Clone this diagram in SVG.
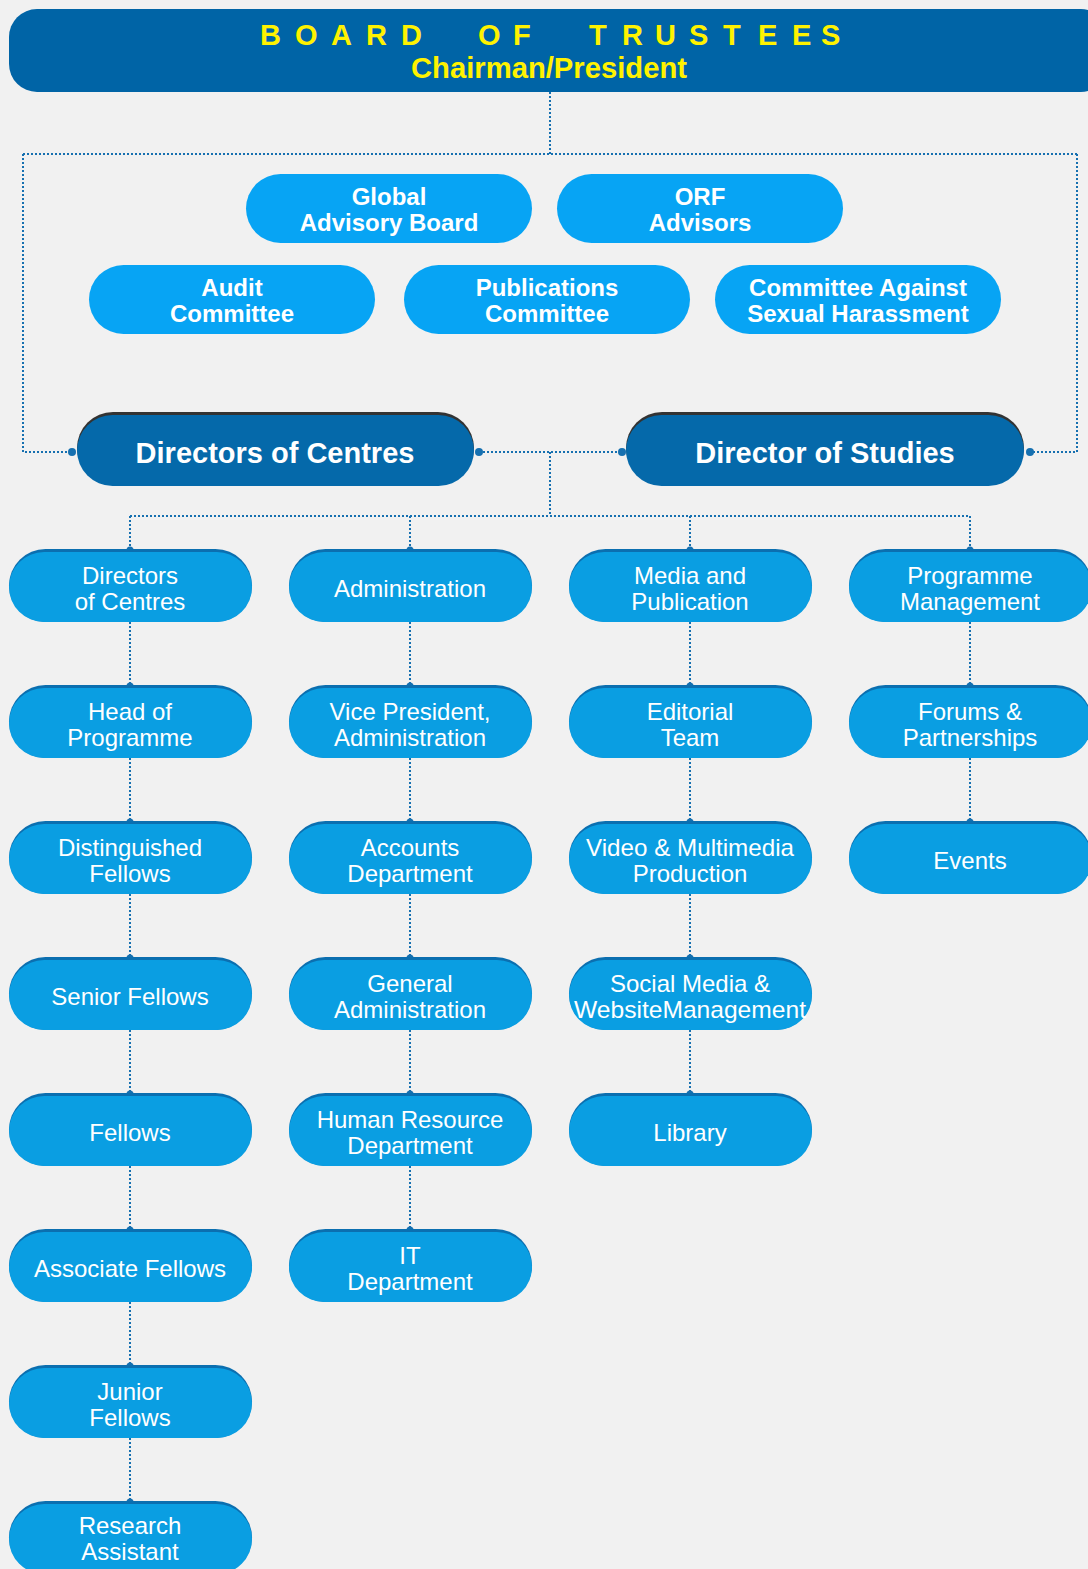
<svg xmlns="http://www.w3.org/2000/svg" width="1088" height="1569" viewBox="0 0 1088 1569">
<defs>
<style>
.bg{fill:#f1f1f1}
.con{fill:none;stroke:#1670b0;stroke-width:2;stroke-dasharray:2 2}
.dot{fill:#1670b0}
.adv{fill:#07a4f4}
.advt{font-family:"Liberation Sans",Arial,sans-serif;font-weight:bold;font-size:24px;fill:#fff;text-anchor:middle}
.dirS{fill:#333}
.dir{fill:#0569aa}
.dirt{font-family:"Liberation Sans",Arial,sans-serif;font-weight:bold;font-size:29px;fill:#fff;text-anchor:middle}
.bxS{fill:#0b6fb0}
.bx{fill:#0a9ee2}
.bxt{font-family:"Liberation Sans",Arial,sans-serif;font-size:24px;fill:#fff;text-anchor:middle}
.top{fill:#0064a6}
.yt{font-family:"Liberation Sans",Arial,sans-serif;font-weight:bold;fill:#fff200}
</style>
</defs>
<rect class="bg" x="0" y="0" width="1088" height="1569"/>

<g id="connectors">
<path class="con" d="M550 92 V154 M23 154 H1077 M23 154 V452 H72 M1077 154 V452 H1030"/>
<path class="con" d="M479 452 H622 M550 452 V516 M130 516 H970 M130 516 V549 M410 516 V549 M690 516 V549 M970 516 V549"/>
<path class="con" d="M130 622 V685 M130 758 V821 M130 894 V957 M130 1030 V1093 M130 1166 V1229 M130 1302 V1365 M130 1438 V1501"/>
<path class="con" d="M410 622 V685 M410 758 V821 M410 894 V957 M410 1030 V1093 M410 1166 V1229"/>
<path class="con" d="M690 622 V685 M690 758 V821 M690 894 V957 M690 1030 V1093"/>
<path class="con" d="M970 622 V685 M970 758 V821"/>
<g class="dot">
<circle cx="72" cy="452" r="4"/><circle cx="1030" cy="452" r="4"/><circle cx="479" cy="452" r="4"/><circle cx="622" cy="452" r="4"/>
<circle cx="130" cy="550" r="3.5"/><circle cx="410" cy="550" r="3.5"/><circle cx="690" cy="550" r="3.5"/><circle cx="970" cy="550" r="3.5"/>
<circle cx="130" cy="686" r="3.5"/><circle cx="130" cy="822" r="3.5"/><circle cx="130" cy="958" r="3.5"/><circle cx="130" cy="1094" r="3.5"/><circle cx="130" cy="1230" r="3.5"/><circle cx="130" cy="1366" r="3.5"/><circle cx="130" cy="1502" r="3.5"/>
<circle cx="410" cy="686" r="3.5"/><circle cx="410" cy="822" r="3.5"/><circle cx="410" cy="958" r="3.5"/><circle cx="410" cy="1094" r="3.5"/><circle cx="410" cy="1230" r="3.5"/>
<circle cx="690" cy="686" r="3.5"/><circle cx="690" cy="822" r="3.5"/><circle cx="690" cy="958" r="3.5"/><circle cx="690" cy="1094" r="3.5"/>
<circle cx="970" cy="686" r="3.5"/><circle cx="970" cy="822" r="3.5"/>
</g>
</g>

<g id="board">
<rect class="top" x="9" y="9" width="1100" height="83" rx="28"/>
<text class="yt" font-size="29" x="260 295 331 366 401 478 513 589 622 655 689 723 758 792 821" y="45">BOARDOFTRUSTEES</text>
<text class="yt" font-size="29" x="411" y="78" textLength="276" lengthAdjust="spacingAndGlyphs">Chairman/President</text>
</g>

<g id="global-advisory-board"><rect class="adv" x="246" y="174" width="286" height="69" rx="34.5"/><text class="advt" x="389" y="205">Global</text><text class="advt" x="389" y="231">Advisory Board</text></g>
<g id="orf-advisors"><rect class="adv" x="557" y="174" width="286" height="69" rx="34.5"/><text class="advt" x="700" y="205">ORF</text><text class="advt" x="700" y="231">Advisors</text></g>
<g id="audit-committee"><rect class="adv" x="89" y="265" width="286" height="69" rx="34.5"/><text class="advt" x="232" y="296">Audit</text><text class="advt" x="232" y="322">Committee</text></g>
<g id="publications-committee"><rect class="adv" x="404" y="265" width="286" height="69" rx="34.5"/><text class="advt" x="547" y="296">Publications</text><text class="advt" x="547" y="322">Committee</text></g>
<g id="committee-against-sexual-harassment"><rect class="adv" x="715" y="265" width="286" height="69" rx="34.5"/><text class="advt" x="858" y="296">Committee Against</text><text class="advt" x="858" y="322">Sexual Harassment</text></g>

<g id="directors-of-centres-head"><rect class="dirS" x="77" y="412" width="397" height="72" rx="36"/><rect class="dir" x="77" y="415" width="397" height="71" rx="35.5"/><text class="dirt" x="275" y="463">Directors of Centres</text></g>
<g id="director-of-studies"><rect class="dirS" x="626" y="412" width="398" height="72" rx="36"/><rect class="dir" x="626" y="415" width="398" height="71" rx="35.5"/><text class="dirt" x="825" y="463">Director of Studies</text></g>

<!-- Column 1 -->
<g id="c1-directors-of-centres"><rect class="bxS" x="9" y="549" width="243" height="73" rx="36.5"/><rect class="bx" x="9" y="552" width="243" height="70" rx="35"/><text class="bxt" x="130" y="584">Directors</text><text class="bxt" x="130" y="610">of Centres</text></g>
<g id="c1-head-of-programme"><rect class="bxS" x="9" y="685" width="243" height="73" rx="36.5"/><rect class="bx" x="9" y="688" width="243" height="70" rx="35"/><text class="bxt" x="130" y="720">Head of</text><text class="bxt" x="130" y="746">Programme</text></g>
<g id="c1-distinguished-fellows"><rect class="bxS" x="9" y="821" width="243" height="73" rx="36.5"/><rect class="bx" x="9" y="824" width="243" height="70" rx="35"/><text class="bxt" x="130" y="856">Distinguished</text><text class="bxt" x="130" y="882">Fellows</text></g>
<g id="c1-senior-fellows"><rect class="bxS" x="9" y="957" width="243" height="73" rx="36.5"/><rect class="bx" x="9" y="960" width="243" height="70" rx="35"/><text class="bxt" x="130" y="1005">Senior Fellows</text></g>
<g id="c1-fellows"><rect class="bxS" x="9" y="1093" width="243" height="73" rx="36.5"/><rect class="bx" x="9" y="1096" width="243" height="70" rx="35"/><text class="bxt" x="130" y="1141">Fellows</text></g>
<g id="c1-associate-fellows"><rect class="bxS" x="9" y="1229" width="243" height="73" rx="36.5"/><rect class="bx" x="9" y="1232" width="243" height="70" rx="35"/><text class="bxt" x="130" y="1277">Associate Fellows</text></g>
<g id="c1-junior-fellows"><rect class="bxS" x="9" y="1365" width="243" height="73" rx="36.5"/><rect class="bx" x="9" y="1368" width="243" height="70" rx="35"/><text class="bxt" x="130" y="1400">Junior</text><text class="bxt" x="130" y="1426">Fellows</text></g>
<g id="c1-research-assistant"><rect class="bxS" x="9" y="1501" width="243" height="73" rx="36.5"/><rect class="bx" x="9" y="1504" width="243" height="70" rx="35"/><text class="bxt" x="130" y="1534">Research</text><text class="bxt" x="130" y="1560">Assistant</text></g>

<!-- Column 2 -->
<g id="c2-administration"><rect class="bxS" x="289" y="549" width="243" height="73" rx="36.5"/><rect class="bx" x="289" y="552" width="243" height="70" rx="35"/><text class="bxt" x="410" y="597">Administration</text></g>
<g id="c2-vice-president"><rect class="bxS" x="289" y="685" width="243" height="73" rx="36.5"/><rect class="bx" x="289" y="688" width="243" height="70" rx="35"/><text class="bxt" x="410" y="720">Vice President,</text><text class="bxt" x="410" y="746">Administration</text></g>
<g id="c2-accounts"><rect class="bxS" x="289" y="821" width="243" height="73" rx="36.5"/><rect class="bx" x="289" y="824" width="243" height="70" rx="35"/><text class="bxt" x="410" y="856">Accounts</text><text class="bxt" x="410" y="882">Department</text></g>
<g id="c2-general-administration"><rect class="bxS" x="289" y="957" width="243" height="73" rx="36.5"/><rect class="bx" x="289" y="960" width="243" height="70" rx="35"/><text class="bxt" x="410" y="992">General</text><text class="bxt" x="410" y="1018">Administration</text></g>
<g id="c2-human-resource"><rect class="bxS" x="289" y="1093" width="243" height="73" rx="36.5"/><rect class="bx" x="289" y="1096" width="243" height="70" rx="35"/><text class="bxt" x="410" y="1128">Human Resource</text><text class="bxt" x="410" y="1154">Department</text></g>
<g id="c2-it"><rect class="bxS" x="289" y="1229" width="243" height="73" rx="36.5"/><rect class="bx" x="289" y="1232" width="243" height="70" rx="35"/><text class="bxt" x="410" y="1264">IT</text><text class="bxt" x="410" y="1290">Department</text></g>

<!-- Column 3 -->
<g id="c3-media-publication"><rect class="bxS" x="569" y="549" width="243" height="73" rx="36.5"/><rect class="bx" x="569" y="552" width="243" height="70" rx="35"/><text class="bxt" x="690" y="584">Media and</text><text class="bxt" x="690" y="610">Publication</text></g>
<g id="c3-editorial-team"><rect class="bxS" x="569" y="685" width="243" height="73" rx="36.5"/><rect class="bx" x="569" y="688" width="243" height="70" rx="35"/><text class="bxt" x="690" y="720">Editorial</text><text class="bxt" x="690" y="746">Team</text></g>
<g id="c3-video"><rect class="bxS" x="569" y="821" width="243" height="73" rx="36.5"/><rect class="bx" x="569" y="824" width="243" height="70" rx="35"/><text class="bxt" x="690" y="856" textLength="208" lengthAdjust="spacingAndGlyphs">Video &amp; Multimedia</text><text class="bxt" x="690" y="882">Production</text></g>
<g id="c3-social-media"><rect class="bxS" x="569" y="957" width="243" height="73" rx="36.5"/><rect class="bx" x="569" y="960" width="243" height="70" rx="35"/><text class="bxt" x="690" y="992">Social Media &amp;</text><text class="bxt" x="690" y="1018" textLength="232" lengthAdjust="spacingAndGlyphs">WebsiteManagement</text></g>
<g id="c3-library"><rect class="bxS" x="569" y="1093" width="243" height="73" rx="36.5"/><rect class="bx" x="569" y="1096" width="243" height="70" rx="35"/><text class="bxt" x="690" y="1141">Library</text></g>

<!-- Column 4 -->
<g id="c4-programme-management"><rect class="bxS" x="849" y="549" width="243" height="73" rx="36.5"/><rect class="bx" x="849" y="552" width="243" height="70" rx="35"/><text class="bxt" x="970" y="584">Programme</text><text class="bxt" x="970" y="610">Management</text></g>
<g id="c4-forums"><rect class="bxS" x="849" y="685" width="243" height="73" rx="36.5"/><rect class="bx" x="849" y="688" width="243" height="70" rx="35"/><text class="bxt" x="970" y="720">Forums &amp;</text><text class="bxt" x="970" y="746">Partnerships</text></g>
<g id="c4-events"><rect class="bxS" x="849" y="821" width="243" height="73" rx="36.5"/><rect class="bx" x="849" y="824" width="243" height="70" rx="35"/><text class="bxt" x="970" y="869">Events</text></g>
</svg>
